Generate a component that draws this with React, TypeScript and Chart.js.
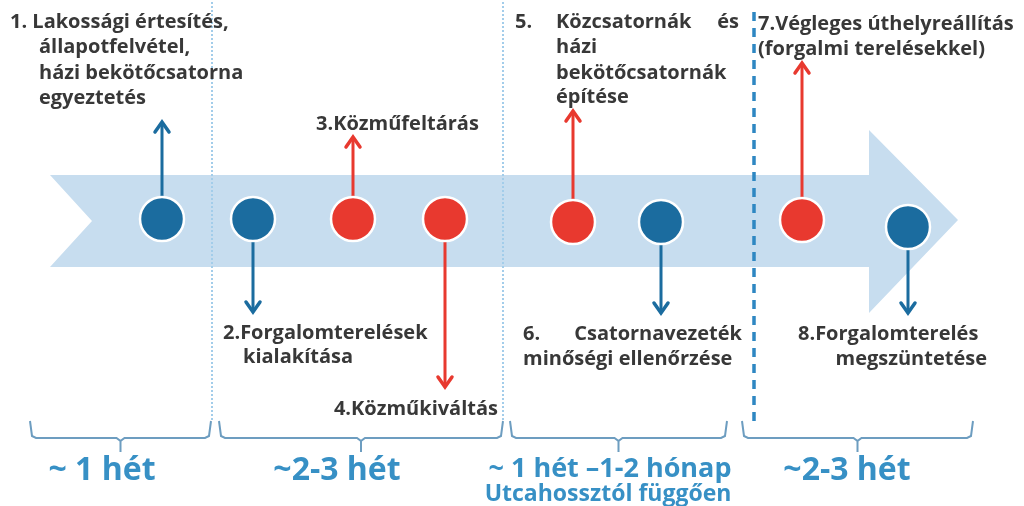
import React, { useEffect, useRef } from "react";
import { Chart, registerables } from "chart.js";

Chart.register(...registerables);

const W = 1024;
const H = 506;

// Steps (circles on the ribbon)
const stepX = [162, 253, 353, 445, 573, 661, 802, 908];
const stepY = [219, 219, 219, 219, 222, 222, 220, 227];
const stepKind = ["blue", "blue", "red", "red", "red", "blue", "red", "blue"];
// Arrow tip y for each step
const arrowTipY = [122, 312, 137, 387, 111, 313, 63, 313];

// Ribbon outline
const ribbonX = [50, 869, 869, 958, 869, 869, 50, 92, 50];
const ribbonY = [175, 175, 130, 220, 313, 267, 267, 221, 175];

// Phase separators
const dottedSepX = [212, 503];
const dashedSepX = [754];

// Brace spans and phase labels
const braceStart = [30, 219, 510, 742];
const braceEnd = [211, 503, 727, 973];
const phaseLabels = ["~ 1 hét", "~2-3 hét", "~ 1 hét \u20131-2 hónap", "~2-3 hét"];
const phaseSub = ["", "", "Utcahossztól függően", ""];

const COLORS: Record<string, string> = { blue: "#1b6c9f", red: "#e8392f" };
const TEXT = "#383838";
const LABEL_BLUE = "#3790c5";

type Seg = { t: string; x: number; y: number; align?: CanvasTextAlign; size?: number; color?: string };

const stepTexts: Seg[] = [
  { t: "1. Lakossági értesítés,", x: 10, y: 28 },
  { t: "állapotfelvétel,", x: 39, y: 53 },
  { t: "házi bekötőcsatorna", x: 39, y: 79 },
  { t: "egyeztetés", x: 39, y: 104 },
  { t: "2.Forgalomterelések", x: 223, y: 339 },
  { t: "kialakítása", x: 243, y: 363 },
  { t: "3.Közműfeltárás", x: 316, y: 130 },
  { t: "4.Közműkiváltás", x: 498, y: 415, align: "right" },
  { t: "5.", x: 515, y: 28 },
  { t: "Közcsatornák", x: 556, y: 28 },
  { t: "és", x: 739, y: 28, align: "right" },
  { t: "házi", x: 556, y: 53 },
  { t: "bekötőcsatornák", x: 556, y: 79 },
  { t: "építése", x: 556, y: 103 },
  { t: "6.", x: 523, y: 340 },
  { t: "Csatornavezeték", x: 742, y: 340, align: "right" },
  { t: "minőségi ellenőrzése", x: 523, y: 365 },
  { t: "7.Végleges úthelyreállítás", x: 758, y: 30 },
  { t: "(forgalmi terelésekkel)", x: 758, y: 55 },
  { t: "8.Forgalomterelés", x: 798, y: 340 },
  { t: "megszüntetése", x: 987, y: 365, align: "right" },
];

// centers / baselines / sizes for the phase labels
const phaseLabelX = [102, 337, 610, 847];

const textPlugin = {
  id: "stepTexts",
  afterDatasetsDraw(chart: any) {
    const { ctx, scales } = chart;
    const xs = scales.x;
    const ys = scales.y;
    ctx.save();
    ctx.textBaseline = "alphabetic";
    for (const s of stepTexts) {
      ctx.font = `bold ${s.size || 20}px "Open Sans", sans-serif`;
      ctx.fillStyle = s.color || TEXT;
      ctx.textAlign = s.align || "left";
      ctx.fillText(s.t, xs.getPixelForValue(s.x), ys.getPixelForValue(s.y));
    }
    // phase labels under braces
    for (let i = 0; i < phaseLabels.length; i++) {
      const hasSub = phaseSub[i] !== "";
      ctx.fillStyle = LABEL_BLUE;
      ctx.textAlign = "center";
      ctx.font = `bold ${hasSub ? 27 : 32}px "Open Sans", sans-serif`;
      ctx.fillText(phaseLabels[i], xs.getPixelForValue(phaseLabelX[i]), ys.getPixelForValue(hasSub ? 477 : 480));
      if (hasSub) {
        ctx.font = `bold 23px "Open Sans", sans-serif`;
        ctx.fillText(phaseSub[i], xs.getPixelForValue(phaseLabelX[i] - 2), ys.getPixelForValue(501));
      }
    }
    ctx.restore();
  },
};

function pts(xs: number[], ys: number[]) {
  return xs.map((x, i) => ({ x, y: ys[i] }));
}

export default function App() {
  const ref = useRef<HTMLCanvasElement | null>(null);

  useEffect(() => {
    document.body.style.margin = "0";
    const canvas = ref.current;
    if (!canvas) return;

    const datasets: any[] = [];

    // ribbon
    datasets.push({
      data: pts(ribbonX, ribbonY),
      borderColor: "rgba(0,0,0,0)",
      borderWidth: 0,
      backgroundColor: "#c7ddef",
      fill: "shape",
      pointRadius: 0,
      tension: 0,
      order: 20,
    });

    // dotted separators
    for (const x of dottedSepX) {
      datasets.push({
        data: [{ x, y: 2 }, { x, y: 422 }],
        borderColor: "#a3cdea",
        borderWidth: 2,
        borderDash: [2, 2],
        pointRadius: 0,
        fill: false,
        order: 15,
      });
    }
    for (const x of dashedSepX) {
      datasets.push({
        data: [{ x, y: 12 }, { x, y: 421 }],
        borderColor: "#2e87c2",
        borderWidth: 3.5,
        borderDash: [9, 7],
        pointRadius: 0,
        fill: false,
        order: 15,
      });
    }

    // braces
    for (let i = 0; i < braceStart.length; i++) {
      const a = braceStart[i];
      const b = braceEnd[i];
      const m = (a + b) / 2;
      datasets.push({
        data: [
          { x: a, y: 421 },
          { x: a + 2, y: 436 },
          { x: a + 6, y: 438 },
          { x: m - 4, y: 438 },
          { x: m, y: 441 },
          { x: m, y: 452 },
          { x: m, y: 441 },
          { x: m + 4, y: 438 },
          { x: b - 6, y: 438 },
          { x: b - 2, y: 436 },
          { x: b, y: 421 },
        ],
        borderColor: "#6d9dc0",
        borderWidth: 2,
        pointRadius: 0,
        fill: false,
        tension: 0,
        order: 15,
      });
    }

    // arrows
    for (let i = 0; i < stepX.length; i++) {
      const x = stepX[i];
      const tip = arrowTipY[i];
      const up = tip < stepY[i];
      const col = COLORS[stepKind[i]];
      datasets.push({
        data: [{ x, y: stepY[i] }, { x, y: tip + (up ? 1 : -1) }],
        borderColor: col,
        borderWidth: 3,
        pointRadius: 0,
        fill: false,
        order: 5,
      });
      const d = up ? 10 : -10;
      datasets.push({
        data: [{ x: x - 7, y: tip + d }, { x, y: tip }, { x: x + 7, y: tip + d }],
        borderColor: col,
        borderWidth: 3.5,
        borderCapStyle: "round",
        borderJoinStyle: "miter",
        pointRadius: 0,
        fill: false,
        order: 5,
      });
    }

    // circles
    datasets.push({
      data: pts(stepX, stepY),
      showLine: false,
      pointRadius: 22,
      pointHoverRadius: 22,
      pointBackgroundColor: stepKind.map((k) => COLORS[k]),
      pointBorderColor: "#ffffff",
      pointBorderWidth: 2.5,
      order: 1,
    });

    for (const ds of datasets) ds.clip = false;

    const chart = new Chart(canvas, {
      type: "line",
      data: { datasets },
      options: {
        animation: false,
        responsive: false,
        parsing: true,
        layout: { padding: 0, autoPadding: false },
        events: [],
        scales: {
          x: { type: "linear", min: 0, max: W, display: false },
          y: { type: "linear", min: 0, max: H, reverse: true, display: false },
        },
        plugins: {
          legend: { display: false },
          tooltip: { enabled: false },
        },
      },
      plugins: [textPlugin],
    });

    return () => chart.destroy();
  }, []);

  return (
    <div style={{ position: "fixed", left: 0, top: 0, width: W, height: H, background: "#fff" }}>
      <canvas ref={ref} width={W} height={H} style={{ display: "block" }} />
    </div>
  );
}
